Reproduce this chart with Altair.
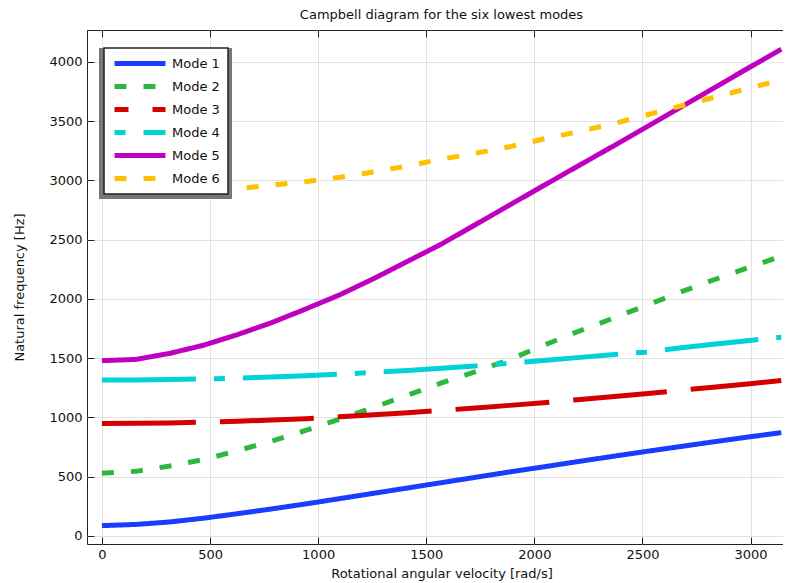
import altair as alt
import pandas as pd

omega = [0, 157, 314, 471, 628, 785, 942, 1100, 1257, 1414, 1571,
         1728, 1885, 2042, 2199, 2356, 2513, 2670, 2827, 2985, 3142]

mode1 = [87, 97, 118, 150, 188, 228, 270, 315, 360, 405, 450,
         495, 540, 583, 627, 670, 712, 753, 794, 834, 872]
mode2 = [530, 545, 590, 645, 720, 800, 890, 985, 1085, 1188, 1292,
         1387, 1488, 1608, 1723, 1832, 1942, 2054, 2160, 2262, 2362]
mode3 = [950, 951, 954, 960, 968, 978, 990, 1005, 1022, 1040, 1060,
         1080, 1102, 1124, 1150, 1175, 1200, 1228, 1255, 1283, 1312]
mode4 = [1316, 1317, 1320, 1325, 1332, 1341, 1352, 1365, 1380, 1396, 1415,
         1435, 1457, 1481, 1505, 1530, 1551, 1586, 1618, 1648, 1677]
mode5 = [1479, 1490, 1541, 1610, 1700, 1800, 1915, 2035, 2172, 2318, 2464,
         2628, 2792, 2956, 3119, 3281, 3445, 3611, 3777, 3944, 4108]
mode6 = [2868, 2873, 2885, 2905, 2930, 2960, 2990, 3027, 3072, 3123, 3180,
         3230, 3285, 3350, 3410, 3475, 3550, 3625, 3700, 3775, 3850]

modes = ["Mode 1", "Mode 2", "Mode 3", "Mode 4", "Mode 5", "Mode 6"]
series = [mode1, mode2, mode3, mode4, mode5, mode6]
colors = ["#1a3cff", "#2db83d", "#d40000", "#00d2d8", "#bf00bf", "#ffc000"]
dashes = [[1, 0], [12, 17], [94, 24], [94, 18, 11, 18], [1, 0], [12, 17]]

x_ticks = [0, 500, 1000, 1500, 2000, 2500, 3000]
y_ticks = [0, 500, 1000, 1500, 2000, 2500, 3000, 3500, 4000]

rows = []
for name, vals in zip(modes, series):
    for x, y in zip(omega, vals):
        rows.append({"omega": x, "freq": y, "mode": name})
df = pd.DataFrame(rows)

xscale = alt.Scale(domain=[-69, 3210], nice=False, zero=False)
yscale = alt.Scale(domain=[-68, 4270], nice=False, zero=False)

FONT = "DejaVu Sans"

dash_offset = alt.ExprRef(
    expr="datum.value == 'Mode 3' ? 80 : (datum.value == 'Mode 4' ? 112 : 0)"
)

legend_opts = dict(title=None, orient="none", legendX=17, legendY=18,
                   symbolDashOffset=dash_offset)

lines = alt.Chart(df).mark_line(strokeWidth=5, strokeCap="butt").encode(
    x=alt.X("omega:Q", scale=xscale,
            axis=alt.Axis(title="Rotational angular velocity [rad/s]",
                          orient="bottom", values=x_ticks, format="d",
                          offset=-7, tickSize=7, domain=False,
                          labelPadding=4, titlePadding=6, grid=True)),
    y=alt.Y("freq:Q", scale=yscale,
            axis=alt.Axis(title="Natural frequency [Hz]",
                          orient="left", values=y_ticks, format="d",
                          offset=-7, tickSize=7, domain=False,
                          labelPadding=5, titlePadding=22, grid=True)),
    color=alt.Color("mode:N", scale=alt.Scale(domain=modes, range=colors),
                    legend=alt.Legend(**legend_opts)),
    strokeDash=alt.StrokeDash("mode:N", scale=alt.Scale(domain=modes, range=dashes),
                              legend=alt.Legend(**legend_opts)),
)

frame_axes = alt.Chart(df).mark_line(strokeOpacity=0).encode(
    x=alt.X("omega:Q", scale=xscale,
            axis=alt.Axis(orient="top", title=None, labels=False,
                          values=x_ticks,
                          offset=-7, tickSize=7, domain=False, grid=False)),
    y=alt.Y("freq:Q", scale=yscale,
            axis=alt.Axis(orient="right", title=None, labels=False,
                          values=y_ticks,
                          offset=-7, tickSize=7, domain=False, grid=False)),
    detail="mode:N",
)

shadow = alt.Chart(pd.DataFrame({"k": [0]})).mark_rect(color="#777777").encode(
    x=alt.value(12), x2=alt.value(145), y=alt.value(18), y2=alt.value(169)
)

chart = alt.layer(lines, frame_axes, shadow).resolve_axis(
    x="independent", y="independent"
).properties(
    width=709,
    height=514,
    title=alt.TitleParams("Campbell diagram for the six lowest modes",
                          font=FONT, fontSize=13, fontWeight="normal",
                          color="#111111", offset=8, anchor="middle"),
    autosize=alt.AutoSizeParams(type="none"),
    padding={"left": 79, "top": 22, "right": -13, "bottom": 39},
).configure_view(
    stroke="#222222", strokeWidth=1
).configure_axis(
    labelFont=FONT, titleFont=FONT, labelFontSize=13, titleFontSize=13,
    titleFontWeight="normal", labelColor="#111111", titleColor="#111111",
    tickColor="#222222", gridColor="#e2e2e2", gridWidth=1
).configure_legend(
    labelFont=FONT, labelFontSize=13, labelColor="#111111",
    symbolType="stroke", symbolSize=2601, symbolStrokeWidth=5,
    fillColor="white", strokeColor="#222222", strokeWidth=1.5,
    padding=8, rowPadding=8, clipHeight=15, labelOffset=4, cornerRadius=0
)

chart.save("out.html", embed_options={"renderer": "svg", "actions": False})
